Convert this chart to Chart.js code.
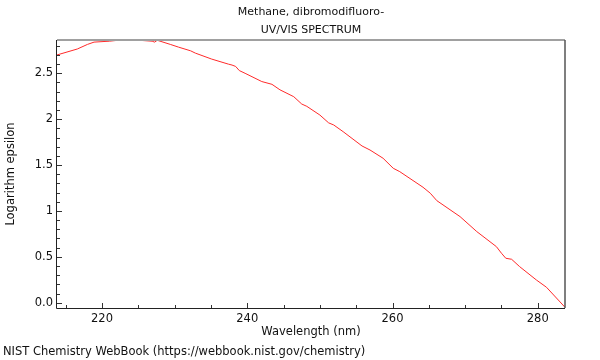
<!DOCTYPE html>
<html>
<head>
<meta charset="utf-8">
<script src="https://cdn.jsdelivr.net/npm/chart.js@4"></script>
<style>
  html, body { margin: 0; padding: 0; background: #fff; }
  #wrap { width: 600px; height: 360px; position: relative; }
</style>
</head>
<body>
<div id="wrap"><canvas id="chartSpektrum"></canvas></div>
<script>
// ── UV/VIS spectrum, CBr2F2 ─────────

const wavelengths = [
  213.8, 216.6, 218.0, 218.9, 221.0, 222.8, 225.1, 226.9, 227.25, 227.6,
  229.4, 230.55, 232.2, 232.85, 235.1, 237.4, 237.9, 238.4, 238.9, 239.7,
  242.0, 243.4, 244.5, 246.4, 247.5, 248.2, 250.0, 251.2, 251.9, 253.2,
  255.8, 256.9, 258.7, 260.1, 261.0, 264.2, 265.2, 266.1, 269.3, 271.6,
  274.3, 275.0, 275.6, 276.4, 277.5, 279.8, 281.2, 283.75
];
const logEpsilon = [
  2.70, 2.765, 2.815, 2.84, 2.85, 2.865, 2.86, 2.85, 2.84, 2.86,
  2.815, 2.785, 2.745, 2.72, 2.655, 2.60, 2.59, 2.575, 2.53, 2.50,
  2.41, 2.38, 2.32, 2.245, 2.165, 2.14, 2.045, 1.96, 1.937, 1.864,
  1.708, 1.664, 1.574, 1.465, 1.428, 1.258, 1.193, 1.112, 0.938, 0.775,
  0.611, 0.539, 0.484, 0.473, 0.393, 0.248, 0.168, -0.05
];

const xMajor = [220, 240, 260, 280];
const xMinor = [215, 225, 230, 235, 245, 250, 255, 265, 270, 275];
const yMajor = [0, 0.5, 1, 1.5, 2, 2.5];
const yMajorLabels = ['0.0', '0.5', '1', '1.5', '2', '2.5'];
const yMinor = [0.1, 0.2, 0.3, 0.4, 0.6, 0.7, 0.8, 0.9, 1.1, 1.2, 1.3, 1.4,
                1.6, 1.7, 1.8, 1.9, 2.1, 2.2, 2.3, 2.4, 2.6, 2.7, 2.8];

const titleLines = ['Methane, dibromodifluoro-', 'UV/VIS SPECTRUM'];
const footerText = 'NIST Chemistry WebBook (https://webbook.nist.gov/chemistry)';

const FONT = 'DejaVu Sans, sans-serif';
const textColor = '#111';

// frame, inward ticks, titles, footer
const cercevePlugin = {
  id: 'cerceve',
  afterDraw(chart) {
    const { ctx: c, chartArea: a, scales: { x, y } } = chart;
    c.save();

    // ticks (inside the plot)
    c.strokeStyle = '#333'; c.lineWidth = 1;
    c.beginPath();
    xMajor.forEach(v => { const px = Math.round(x.getPixelForValue(v)) + 0.5; c.moveTo(px, a.bottom); c.lineTo(px, a.bottom - 5); });
    xMinor.forEach(v => { const px = Math.round(x.getPixelForValue(v)) + 0.5; c.moveTo(px, a.bottom); c.lineTo(px, a.bottom - 3); });
    yMajor.forEach(v => { const py = Math.round(y.getPixelForValue(v)) + 0.5; c.moveTo(a.left, py); c.lineTo(a.left + 5, py); });
    yMinor.forEach(v => { const py = Math.round(y.getPixelForValue(v)) + 0.5; c.moveTo(a.left, py); c.lineTo(a.left + 3, py); });
    c.stroke();

    // top (gray) + right
    c.strokeStyle = '#a0a0a0'; c.lineWidth = 2;
    c.beginPath(); c.moveTo(a.left, a.top); c.lineTo(a.right, a.top); c.stroke();
    c.strokeStyle = '#555'; c.lineWidth = 1.5;
    c.beginPath(); c.moveTo(a.right, a.top); c.lineTo(a.right, a.bottom); c.stroke();
    // left + bottom
    c.strokeStyle = '#222'; c.lineWidth = 1;
    c.beginPath();
    c.moveTo(a.left - 0.5, a.top); c.lineTo(a.left - 0.5, a.bottom + 0.5);
    c.lineTo(a.right, a.bottom + 0.5);
    c.stroke();

    // titles
    c.fillStyle = textColor; c.font = '11px ' + FONT;
    c.textAlign = 'center'; c.textBaseline = 'middle';
    const cx = (a.left + a.right) / 2;
    c.fillText(titleLines[0], cx, 12);
    c.fillText(titleLines[1], cx, 30);

    // footer
    c.textAlign = 'left';
    c.font = '11.5px ' + FONT;
    c.fillText(footerText, 3, 352);
    c.restore();
  }
};

new Chart(document.getElementById('chartSpektrum'), {
  type: 'line',
  data: {
    datasets: [{
      label: 'log ε',
      data: wavelengths.map((w, i) => ({ x: w, y: logEpsilon[i] })),
      borderColor: '#ff2a2a', backgroundColor: 'transparent',
      borderWidth: 1, pointRadius: 0, tension: 0, fill: false
    }]
  },
  options: {
    responsive: true, maintainAspectRatio: false, animation: false,
    layout: { padding: { top: 40, right: 35, left: 0, bottom: 0 } },
    plugins: { legend: { display: false }, tooltip: { enabled: false } },
    scales: {
      x: {
        type: 'linear', min: 213.8, max: 283.75,
        grid: { display: false, drawTicks: false }, border: { display: false },
        afterBuildTicks: s => { s.ticks = xMajor.map(v => ({ value: v })); },
        afterFit: s => { s.height = 52; },
        ticks: { color: textColor, font: { family: FONT, size: 11.5 }, padding: 4, maxRotation: 0 },
        title: { display: true, text: 'Wavelength (nm)', color: textColor,
          font: { family: FONT, size: 11.5 }, padding: { top: 0, bottom: 21 } }
      },
      y: {
        type: 'linear', min: -0.058, max: 2.863,
        grid: { display: false, drawTicks: false }, border: { display: false },
        afterBuildTicks: s => { s.ticks = yMajor.map(v => ({ value: v })); },
        afterFit: s => { s.width = 57; },
        ticks: { color: textColor, font: { family: FONT, size: 11.5 }, padding: 4,
          callback: v => yMajorLabels[yMajor.indexOf(v)] },
        title: { display: true, text: 'Logarithm epsilon', color: textColor,
          font: { family: FONT, size: 11.5 }, padding: { top: 4, bottom: 0 } }
      }
    }
  },
  plugins: [cercevePlugin]
});
</script>
</body>
</html>
